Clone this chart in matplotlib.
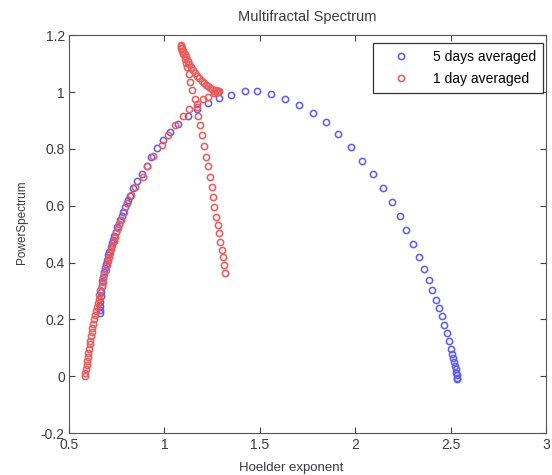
import numpy as np
from matplotlib import pyplot as plt

plt.rcParams['font.family'] = ['Liberation Sans', 'DejaVu Sans']

# 5 days averaged
x5 = [0.662, 0.662, 0.663, 0.664, 0.666, 0.668, 0.671, 0.675, 0.680, 0.684, 0.689, 0.693, 0.698,
      0.705, 0.711, 0.718, 0.724, 0.730, 0.737, 0.745, 0.753, 0.760, 0.767, 0.776, 0.785,
      0.793, 0.802, 0.811, 0.820, 0.837, 0.858, 0.881, 0.907, 0.928, 0.960, 0.991, 1.029,
      1.073, 1.122, 1.169, 1.227, 1.285, 1.349, 1.422, 1.487, 1.557, 1.634, 1.705, 1.777,
      1.849, 1.912, 1.976, 2.036, 2.095, 2.144, 2.193, 2.235, 2.266, 2.303, 2.334, 2.361,
      2.387, 2.403, 2.425, 2.438, 2.453, 2.467, 2.483, 2.493, 2.504, 2.510, 2.514, 2.518,
      2.523, 2.527, 2.530, 2.532, 2.534, 2.535]
y5 = [0.223, 0.235, 0.246, 0.263, 0.281, 0.298, 0.316, 0.334, 0.351, 0.366, 0.381, 0.396, 0.410,
      0.425, 0.439, 0.454, 0.468, 0.481, 0.494, 0.509, 0.524, 0.537, 0.550, 0.565, 0.579,
      0.594, 0.608, 0.621, 0.634, 0.661, 0.688, 0.713, 0.741, 0.772, 0.802, 0.830, 0.861,
      0.889, 0.914, 0.940, 0.961, 0.980, 0.991, 1.002, 1.002, 0.992, 0.975, 0.955, 0.926,
      0.893, 0.853, 0.807, 0.759, 0.710, 0.661, 0.613, 0.564, 0.515, 0.466, 0.420, 0.379,
      0.340, 0.302, 0.270, 0.241, 0.211, 0.182, 0.153, 0.124, 0.095, 0.080, 0.065, 0.050,
      0.036, 0.025, 0.013, 0.003, -0.005, -0.011]

# 1 day averaged
x1 = [0.584, 0.586, 0.589, 0.592, 0.596, 0.599, 0.601, 0.605, 0.610, 0.612, 0.615, 0.618,
      0.622, 0.626, 0.631, 0.636, 0.642, 0.646, 0.650, 0.655, 0.659, 0.665, 0.671, 0.676,
      0.680, 0.686, 0.692, 0.697, 0.703, 0.709, 0.715, 0.721, 0.727, 0.734, 0.741, 0.748,
      0.755, 0.763, 0.771, 0.788, 0.806, 0.823, 0.846, 0.886, 0.910, 0.942, 0.986, 1.020,
      1.056, 1.099, 1.131, 1.169, 1.201, 1.230, 1.260, 1.275, 1.283, 1.285, 1.283, 1.272,
      1.262, 1.250, 1.239, 1.228, 1.218, 1.206, 1.195, 1.183, 1.172, 1.162, 1.152, 1.141,
      1.131, 1.122, 1.113, 1.106, 1.099, 1.092, 1.087, 1.085, 1.088, 1.093, 1.099, 1.107,
      1.114, 1.120, 1.129, 1.134, 1.146, 1.160, 1.169, 1.178, 1.187, 1.199, 1.209, 1.218,
      1.230, 1.239, 1.248, 1.253, 1.261, 1.270, 1.279, 1.285, 1.291, 1.300, 1.306, 1.312,
      1.318]
y1 = [0.001, 0.012, 0.025, 0.040, 0.054, 0.068, 0.083, 0.097, 0.112, 0.126, 0.141, 0.155,
      0.170, 0.185, 0.200, 0.214, 0.229, 0.243, 0.258, 0.272, 0.287, 0.302, 0.316, 0.331,
      0.346, 0.360, 0.375, 0.390, 0.404, 0.418, 0.433, 0.447, 0.462, 0.476, 0.491, 0.506,
      0.521, 0.535, 0.550, 0.579, 0.608, 0.637, 0.667, 0.702, 0.739, 0.774, 0.813, 0.848,
      0.883, 0.914, 0.941, 0.958, 0.974, 0.984, 0.996, 1.000, 0.999, 1.003, 1.005, 1.008,
      1.005, 1.012, 1.015, 1.020, 1.026, 1.033, 1.040, 1.049, 1.058, 1.068, 1.078, 1.088,
      1.099, 1.110, 1.122, 1.133, 1.145, 1.155, 1.162, 1.166, 1.155, 1.143, 1.133, 1.117,
      1.102, 1.087, 1.064, 1.034, 1.007, 0.976, 0.947, 0.914, 0.883, 0.848, 0.809, 0.772,
      0.739, 0.702, 0.667, 0.632, 0.596, 0.561, 0.532, 0.503, 0.474, 0.445, 0.419, 0.390,
      0.363]

xticks = [0.5, 1, 1.5, 2, 2.5, 3]
xtick_labels = ['0.5', '1', '1.5', '2', '2.5', '3']
yticks = [-0.2, 0, 0.2, 0.4, 0.6, 0.8, 1, 1.2]
ytick_labels = ['-0.2', '0', '0.2', '0.4', '0.6', '0.8', '1', '1.2']

fig = plt.figure(figsize=(5.52, 4.75), dpi=100)
ax = fig.add_axes([0.125, 0.088, 0.864, 0.838])

ax.plot(x5, y5, 'o', mfc='none', mec='#5a5aff', ms=4.5, mew=1.1, label='5 days averaged')
ax.plot(x1, y1, 'o', mfc='none', mec='#ec5a5a', ms=4.5, mew=1.1, label='1 day averaged')

ax.set_xlim(0.5, 3)
ax.set_ylim(-0.2, 1.2)
ax.set_xticks(xticks)
ax.set_xticklabels(xtick_labels)
ax.set_yticks(yticks)
ax.set_yticklabels(ytick_labels)
ax.tick_params(direction='in', top=True, right=True, labelsize=10, length=4,
               color='#444444', labelcolor='#3a3a4a')
ax.tick_params(axis='x', pad=3.5)
ax.tick_params(axis='y', pad=3)
for s in ax.spines.values():
    s.set_color('#555555')

ax.set_title('Multifractal Spectrum', fontsize=10.5, color='#3a3a4a', pad=10)
ax.set_xlabel('Hoelder exponent', fontsize=9.5, color='#3a3a4a')
ax.xaxis.set_label_coords(0.465, -0.072)
ax.set_ylabel('PowerSpectrum', fontsize=8.5, color='#3a3a4a')
ax.yaxis.set_label_coords(-0.087, 0.53)

leg = ax.legend(loc='upper right', bbox_to_anchor=(0.994, 0.98), borderaxespad=0,
                fontsize=10, fancybox=False, edgecolor='#333333', framealpha=1,
                handlelength=3, handletextpad=0.8, borderpad=0.5, labelspacing=0.55)
leg.get_frame().set_linewidth(0.9)

fig.savefig('out.png')
